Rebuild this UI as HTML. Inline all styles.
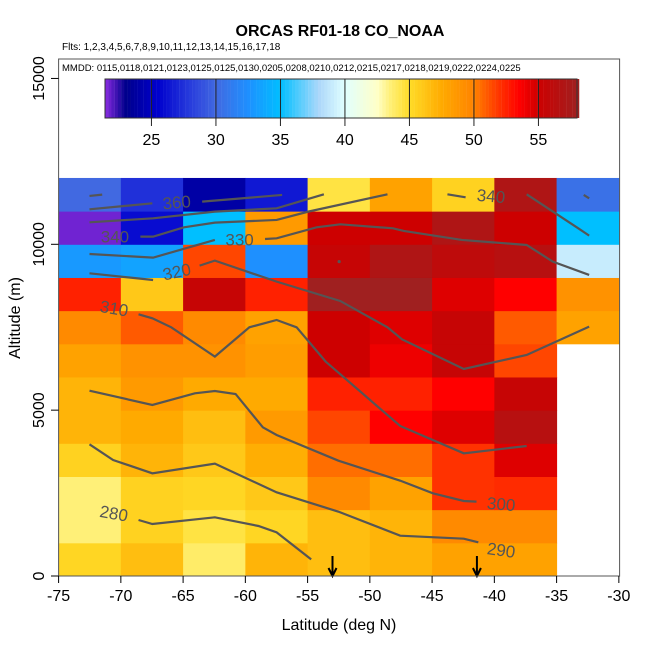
<!DOCTYPE html>
<html><head><meta charset="utf-8"><style>
body{margin:0;background:#fff}
svg{display:block;font-family:"Liberation Sans",sans-serif}
</style></head><body>
<svg id="c" width="650" height="650" xmlns="http://www.w3.org/2000/svg">
<text x="340" y="36" text-anchor="middle" font-size="16" font-weight="bold">ORCAS RF01-18 CO_NOAA</text>
<text x="62" y="50" font-size="10">Flts: 1,2,3,4,5,6,7,8,9,10,11,12,13,14,15,16,17,18</text>
<g id="cells"></g>
<g id="cont"></g>
<rect x="58.6" y="59" width="561" height="517" fill="none" stroke="#555" stroke-width="1"/>
<text x="62" y="71" font-size="9.5">MMDD: 0115,0118,0121,0123,0125,0125,0130,0205,0208,0210,0212,0215,0217,0218,0219,0222,0224,0225</text>
<g id="cbar"></g>
<g id="axes"></g>
<text x="339" y="630" text-anchor="middle" font-size="16">Latitude (deg N)</text>
<text transform="translate(20,318) rotate(-90)" text-anchor="middle" font-size="16">Altitude (m)</text>
</svg>
<script>
const lats=[-75,-70,-65,-60,-55,-50,-45,-40,-35];
const alts=[0,1000,2000,3000,4000,5000,6000,7000,8000,9000,10000,11000];
const coValues=[
[45.3,46.5,43.8,47,46.5,47,48,48,null],
[43.5,45.5,44.5,45.3,46.5,47,49.5,49.5,null],
[43.5,45.5,45.3,46,49.5,48,52,52.2,null],
[45.5,47,46,47.3,50.5,50.5,52,54.5,null],
[47,47.5,46.5,48.5,51.5,53.5,54.5,56.5,null],
[47,48.5,47.5,47.5,52.5,52.5,53.5,55.5,null],
[48,49,49,48.3,55,54,55.5,51.5,null],
[49.5,51,49.5,48,55,54.5,55.5,51,48],
[52.5,46,55.5,52.5,58,58,54.5,53.5,49],
[33,33.5,51.5,32.5,55.5,57,56,56.5,39],
[21.7,26,35,48.5,55,55,57,55,35],
[30,27.5,24,26.5,44.5,48,45.5,57,30.5]];
const xTicks=[-75,-70,-65,-60,-55,-50,-45,-40,-35,-30];
const yTicks=[0,5000,10000,15000];
const cbTicks=[25,30,35,40,45,50,55];
const contourLevels=[360,350,340,330,320,310,300,290,280];
const zl=(zx)=>-75+(zx-10)/171.3*5, za=(zy)=>(1218-zy)/99.5*1000;
const contourRaw=[
[[95,118],[268,100]],[[405,95],[625,75]],[[95,78],[130,74]],
[[95,157],[270,145],[440,125],[610,115],[740,73]],
[[235,200],[270,200],[355,172],[440,158],[610,150],[697,125],[915,73]],
[[1080,73],[1130,82]],[[1298,73],[1440,175],[1470,197]],[[1455,75],[1470,85]],
[[95,252],[270,263],[440,210]],
[[578,207],[610,205],[720,172],[785,163],[930,175],[960,183],[1120,210],[1298,225],[1370,275],[1470,315]],
[[95,310],[270,330]],
[[398,287],[440,272],[610,335],[785,393],[915,472],[955,508],[1125,597],[1298,555],[1470,470]],
[[230,433],[268,445],[320,472],[440,560],[535,472],[610,450],[665,472],[745,575],[950,768],[1125,850],[1298,828]],
[[95,662],[268,705],[385,670],[440,663],[497,672],[572,772],[610,795],[780,872],[950,932],[1040,970],[1125,993],[1160,995]],
[[95,823],[160,870],[268,910],[440,881],[610,967],[780,1025],[950,1097],[1125,1106],[1165,1117]],
[[230,1050],[268,1062],[440,1042],[560,1068],[610,1087],[705,1168]]];
const contourLabels=[["360",335,97,-5],["340",165,200,0],["340",1200,78,5],["330",508,208,0],["320",335,305,-12],["310",163,415,10],["300",1228,1002,5],["290",1228,1140,8],["280",162,1030,10]];
const arrowLats=[-53.0,-41.4];

const X=v=>58.6+(v+75)*12.45, Y=v=>576-v*0.03317;
const NS="http://www.w3.org/2000/svg";
function mk(t,a,p){const e=document.createElementNS(NS,t);for(const k in a)e.setAttribute(k,a[k]);p.appendChild(e);return e;}
const stops=[[21.4,[138,43,226]],[23,[0,0,139]],[25.5,[0,0,205]],[28,[40,60,220]],[30,[65,105,225]],[32.5,[30,144,255]],[35,[0,191,255]],[38,[173,216,250]],[40,[224,255,255]],[42.5,[255,255,200]],[43.5,[255,240,120]],[45,[255,220,40]],[47.5,[255,170,0]],[50,[255,130,0]],[52,[255,50,0]],[53.5,[255,0,0]],[55,[205,0,0]],[58,[160,32,32]]];
function col(v){if(v<=stops[0][0])return `rgb(${stops[0][1]})`;for(let i=1;i<stops.length;i++){if(v<=stops[i][0]){const [a,ca]=stops[i-1],[b,cb]=stops[i];const t=(v-a)/(b-a);return `rgb(${ca.map((c,j)=>Math.round(c+(cb[j]-c)*t)).join(',')})`;}}return `rgb(${stops[stops.length-1][1]})`;}
const cells=document.getElementById('cells');
coValues.forEach((row,r)=>row.forEach((v,c)=>{if(v==null)return;
 const e=mk('rect',{x:X(lats[c]),y:Y(alts[r]+1000),width:X(lats[c]+5)-X(lats[c])+0.5,height:Y(alts[r])-Y(alts[r]+1000)+0.5,fill:col(v)},cells);
 
 }));
const cont=document.getElementById('cont');
contourRaw.forEach(seg=>{const e=mk('polyline',{points:seg.map(p=>X(zl(p[0]))+','+Y(za(p[1]))).join(' '),fill:'none',stroke:'#555','stroke-width':2.2},cont);
 
 });
mk('circle',{cx:X(zl(782)),cy:Y(za(275)),r:1.6,fill:'#555'},cont);
contourLabels.forEach(l=>{const x=X(zl(l[1])),y=Y(za(l[2]));const e=mk('text',{x:x,y:y+6,'text-anchor':'middle','font-size':17,fill:'#555',transform:`rotate(${l[3]},${x},${y})`},cont);e.textContent=l[0];
 
 });
arrowLats.forEach(a=>{const x=X(a);const g=mk('g',{},cont);
 
 
 mk('line',{x1:x,y1:556,x2:x,y2:575,stroke:'#000','stroke-width':2},g);
 mk('polyline',{points:`${x-4},${568} ${x},${576} ${x+4},${568}`,fill:'none',stroke:'#000','stroke-width':2},g);});
const cb=document.getElementById('cbar');const CX=v=>105+(v-21.4)*12.9;
for(let v=21.4;v<58;v+=0.25){mk('rect',{x:CX(v),y:79,width:3.4,height:39,fill:col(v+0.125)},cb);}
mk('rect',{x:105,y:79,width:472,height:39,fill:'none',stroke:'#333'},cb);
cbTicks.forEach(t=>{mk('line',{x1:CX(t),y1:79,x2:CX(t),y2:126,stroke:'#222'},cb);
 const e=mk('text',{x:CX(t),y:145,'text-anchor':'middle','font-size':16},cb);e.textContent=t;
 
 });
const ax=document.getElementById('axes');
xTicks.forEach(t=>{mk('line',{x1:X(t),y1:576,x2:X(t),y2:583,stroke:'#000'},ax);
 const e=mk('text',{x:X(t),y:601,'text-anchor':'middle','font-size':16},ax);e.textContent=t;
 
 });
yTicks.forEach(t=>{mk('line',{x1:51,y1:Y(t),x2:58.6,y2:Y(t),stroke:'#000'},ax);
 const e=mk('text',{x:0,y:0,'text-anchor':'middle','font-size':16,transform:`translate(44,${Y(t)}) rotate(-90)`},ax);e.textContent=t;
 
 });
</script>
</body></html>
